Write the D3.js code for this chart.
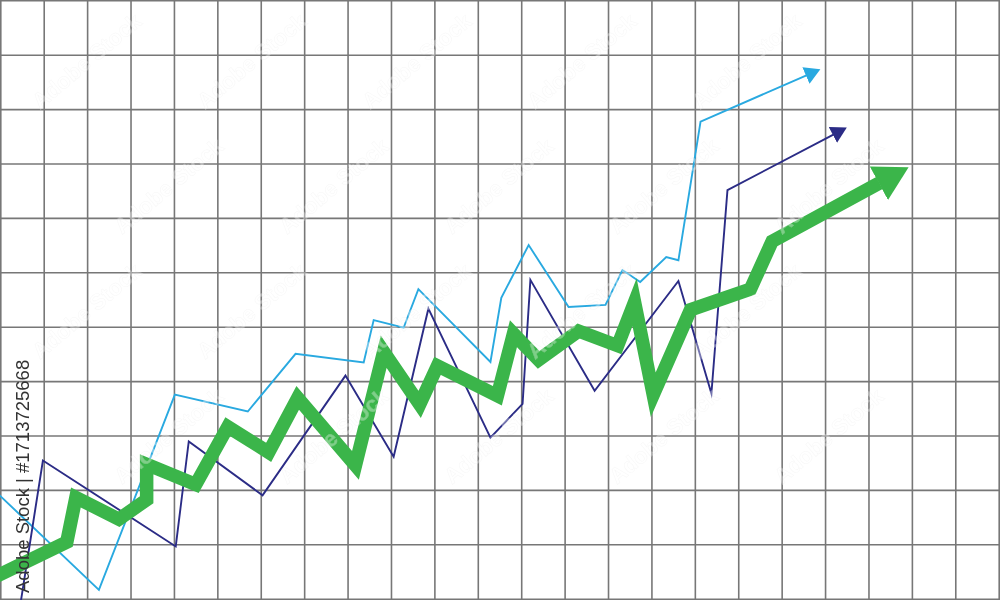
<!DOCTYPE html>
<html>
<head>
<meta charset="utf-8">
<script src="https://cdn.jsdelivr.net/npm/d3@7"></script>
<style>
  body { margin: 0; background: #fff; }
  svg { display: block; }
  .gridLine { stroke: #777; stroke-width: 1.6; fill: none; }
  .series { fill: none; stroke-linejoin: miter; stroke-linecap: butt; }
</style>
</head>
<body>
<script>
//grid size (columns x rows)
var gridCols = d3.range(0, 24),
    gridRows = d3.range(0, 12);

//series points, in grid units [column, row from bottom]
var lightBlue = [[-0.12, 1.98], [2.26, 0.17], [4.01, 3.76], [5.69, 3.45], [6.79, 4.51],
    [8.36, 4.35], [8.59, 5.13], [9.28, 4.99], [9.62, 5.70], [11.28, 4.36], [11.53, 5.54],
    [12.16, 6.51], [13.08, 5.37], [13.93, 5.41], [14.32, 6.05], [14.73, 5.83],
    [15.33, 6.29], [15.61, 6.23], [16.12, 8.78], [18.56, 9.63]];

var navy = [[0.45, -0.1], [0.97, 2.55], [4.03, 0.97], [4.33, 2.90], [6.03, 1.91],
    [7.94, 4.11], [9.05, 2.62], [9.85, 5.34], [11.28, 2.97], [12.02, 3.59], [12.20, 5.87],
    [13.68, 3.83], [15.61, 5.85], [16.37, 3.78], [16.74, 7.52], [19.18, 8.54]];

var green = [[-0.23, 0.37], [1.52, 1.05], [1.73, 1.87], [2.72, 1.47], [3.36, 1.83],
    [3.36, 2.48], [4.49, 2.11], [5.23, 3.17], [6.17, 2.70], [6.84, 3.70], [8.17, 2.46],
    [8.82, 4.55], [9.65, 3.58], [10.06, 4.29], [11.44, 3.74], [11.81, 4.88], [12.39, 4.40],
    [13.31, 4.93], [14.21, 4.66], [14.60, 5.46], [15.03, 3.76], [15.89, 5.32],
    [17.27, 5.70], [17.77, 6.58], [20.24, 7.65]];

var seriesList = [
    {name: "lightBlue", points: lightBlue, color: "#29a9e0", width: 1.9, headLen: 14, headWidth: 16},
    {name: "navy", points: navy, color: "#2b2c86", width: 1.9, headLen: 14, headWidth: 16},
    {name: "green", points: green, color: "#3bb54a", width: 13.5, headLen: 32, headWidth: 36}
];

var stockText = "Adobe Stock | #1713725668";
var watermarkText = "Adobe Stock";

window.onload = drawChart();

function drawChart(){
    var width = 1000,
        height = 600;

    var svg = d3.select("body")
        .append("svg")
        .attr("width", width)
        .attr("height", height);

    //scales: grid units -> pixels
    var x = d3.scaleLinear()
        .domain([0, 23])
        .range([0.8, 999.2]);

    var y = d3.scaleLinear()
        .domain([0, 11])
        .range([599.2, 0.8]);

    //vertical grid lines
    svg.selectAll(".gridV")
        .data(gridCols)
        .enter()
        .append("line")
        .attr("class", "gridLine")
        .attr("x1", function(d){ return x(d); })
        .attr("x2", function(d){ return x(d); })
        .attr("y1", 0)
        .attr("y2", height);

    //horizontal grid lines
    svg.selectAll(".gridH")
        .data(gridRows)
        .enter()
        .append("line")
        .attr("class", "gridLine")
        .attr("y1", function(d){ return y(d); })
        .attr("y2", function(d){ return y(d); })
        .attr("x1", 0)
        .attr("x2", width);

    //arrow heads, one per series
    var defs = svg.append("defs");
    seriesList.forEach(function(s){
        defs.append("marker")
            .attr("id", "head-" + s.name)
            .attr("markerUnits", "userSpaceOnUse")
            .attr("markerWidth", s.headLen + 2)
            .attr("markerHeight", s.headWidth + 2)
            .attr("viewBox", "0 " + (-s.headWidth / 2) + " " + s.headLen + " " + s.headWidth)
            .attr("refX", 0.5)
            .attr("refY", 0)
            .attr("orient", "auto")
            .append("path")
            .attr("d", "M0," + (-s.headWidth / 2) + "L" + s.headLen + ",0L0," + (s.headWidth / 2) + "Z")
            .attr("fill", s.color);
    });

    var line = d3.line()
        .x(function(d){ return x(d[0]); })
        .y(function(d){ return y(d[1]); });

    //series lines, thin ones first
    svg.selectAll(".series")
        .data(seriesList)
        .enter()
        .append("path")
        .attr("class", "series")
        .attr("d", function(d){ return line(d.points); })
        .attr("stroke", function(d){ return d.color; })
        .attr("stroke-width", function(d){ return d.width; })
        .attr("stroke-miterlimit", 10)
        .attr("marker-end", function(d){ return "url(#head-" + d.name + ")"; });

    //faint diagonal watermark, kept inside the frame
    var wm = svg.append("g").attr("opacity", 0.35);
    for (var r = 0; r < 6; r++){
        for (var c = 0; c < 7; c++){
            var wx = c * 165 + (r % 2) * 82 + 40,
                wy = r * 125 + 110;
            if (wx > 860 || wy > 590) continue;
            wm.append("text")
                .attr("transform", "translate(" + wx + "," + wy + ") rotate(-40)")
                .attr("font-family", "Arial, 'Liberation Sans', sans-serif")
                .attr("font-size", 22)
                .attr("font-weight", "bold")
                .attr("fill", "#fff")
                .attr("stroke", "#e8e8e8")
                .attr("stroke-width", 0.5)
                .text(watermarkText);
        }
    }

    //vertical stock id text
    svg.append("text")
        .attr("transform", "translate(29,593) rotate(-90)")
        .attr("font-family", "Arial, 'Liberation Sans', sans-serif")
        .attr("font-size", 18.5)
        .attr("fill", "#333")
        .text(stockText);
}
</script>
</body>
</html>
